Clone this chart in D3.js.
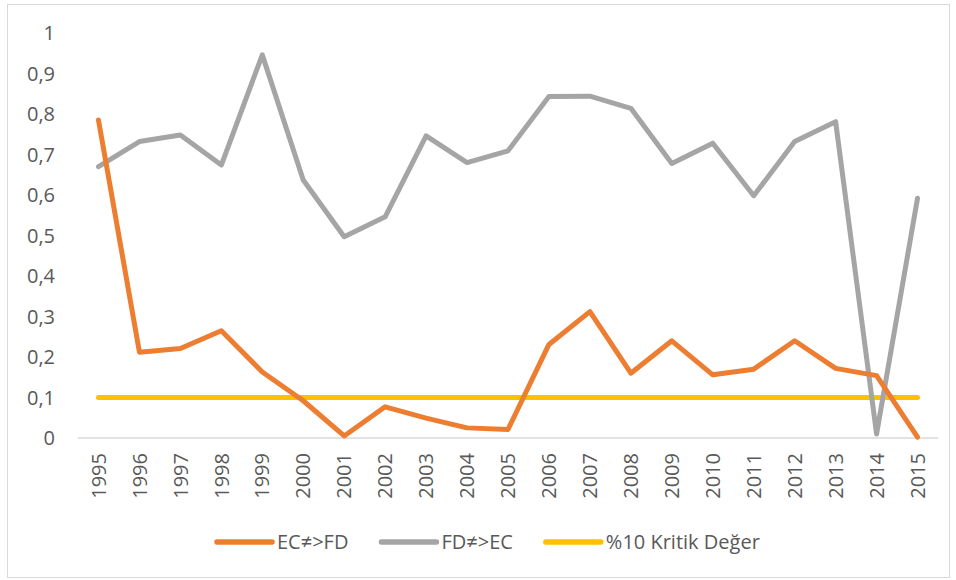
<!DOCTYPE html>
<html>
<head>
<meta charset="utf-8">
<script src="https://cdn.jsdelivr.net/npm/d3@7"></script>
<style>
  body { margin: 0; background: #fff; }
  text { font-family: "Open Sans", "Liberation Sans", sans-serif; fill: #595959; }
</style>
</head>
<body>
<div id="chart"></div>
<script>
var years = ['1995', '1996', '1997', '1998', '1999', '2000', '2001', '2002', '2003', '2004', '2005',
    '2006', '2007', '2008', '2009', '2010', '2011', '2012', '2013', '2014', '2015'];

var ecFd = [0.785, 0.212, 0.221, 0.265, 0.163, 0.092, 0.005, 0.077, 0.049, 0.025, 0.021,
    0.231, 0.312, 0.160, 0.240, 0.156, 0.170, 0.240, 0.172, 0.154, 0.002];

var fdEc = [0.670, 0.732, 0.748, 0.674, 0.946, 0.637, 0.497, 0.546, 0.746, 0.680, 0.709,
    0.843, 0.844, 0.814, 0.678, 0.728, 0.598, 0.732, 0.781, 0.010, 0.592];

var critical = [0.1, 0.1, 0.1, 0.1, 0.1, 0.1, 0.1, 0.1, 0.1, 0.1, 0.1,
    0.1, 0.1, 0.1, 0.1, 0.1, 0.1, 0.1, 0.1, 0.1, 0.1];

var yTicks = [0, 0.1, 0.2, 0.3, 0.4, 0.5, 0.6, 0.7, 0.8, 0.9, 1];

var series = [
    { name: 'EC≠>FD', values: ecFd, color: '#ED7D31' },
    { name: 'FD≠>EC', values: fdEc, color: '#A5A5A5' },
    { name: '%10 Kritik Değer', values: critical, color: '#FFC000' }
];

var width = 956;
var height = 580;
var margin = { top: 33, right: 18, bottom: 142, left: 78 };

var svg = d3.select('#chart')
    .append('svg')
    .attr('width', width)
    .attr('height', height);

// chart area border
svg.append('rect')
    .attr('x', 7.5)
    .attr('y', 4.5)
    .attr('width', 942)
    .attr('height', 573)
    .attr('fill', 'none')
    .attr('stroke', '#D9D9D9');

var x = d3.scaleBand()
    .domain(years)
    .range([margin.left, width - margin.right]);

var y = d3.scaleLinear()
    .domain([0, 1])
    .range([height - margin.bottom, margin.top]);

function cx(d, i) { return x(years[i]) + x.bandwidth() / 2; }

// y labels
svg.selectAll('.ylab')
    .data(yTicks)
    .enter().append('text')
    .attr('class', 'ylab')
    .attr('x', 55)
    .attr('y', function (d) { return y(d); })
    .attr('dy', '0.36em')
    .attr('text-anchor', 'end')
    .style('font-size', '20px')
    .text(function (d) { return String(d3.format('.1~f')(d)).replace('.', ','); });

// baseline
svg.append('line')
    .attr('x1', margin.left)
    .attr('x2', width - margin.right)
    .attr('y1', y(0))
    .attr('y2', y(0))
    .attr('stroke', '#D9D9D9')
    .attr('stroke-width', 1.5);

// x labels
svg.selectAll('.xlab')
    .data(years)
    .enter().append('text')
    .attr('class', 'xlab')
    .attr('transform', function (d) {
        return 'translate(' + (x(d) + x.bandwidth() / 2) + ',' + (y(0) + 15) + ') rotate(-90)';
    })
    .attr('dy', '0.36em')
    .attr('text-anchor', 'end')
    .style('font-size', '20px')
    .text(function (d) { return d; });

var line = d3.line()
    .x(cx)
    .y(function (d) { return y(d); });

// draw the critical value first, then the two test series
[series[2], series[1], series[0]].forEach(function (s) {
    svg.append('path')
        .datum(s.values)
        .attr('d', line)
        .attr('fill', 'none')
        .attr('stroke', s.color)
        .attr('stroke-width', 5)
        .attr('stroke-linejoin', 'round')
        .attr('stroke-linecap', 'round');
});

// legend, laid out left to right from the measured text widths
var legend = svg.append('g').attr('class', 'legend');
var lx = 217;
series.forEach(function (s) {
    var g = legend.append('g').attr('transform', 'translate(' + lx + ',542)');
    g.append('line')
        .attr('x1', 0)
        .attr('x2', 55)
        .attr('stroke', s.color)
        .attr('stroke-width', 5.5)
        .attr('stroke-linecap', 'round');
    var t = g.append('text')
        .attr('x', 60)
        .attr('dy', '0.36em')
        .style('font-size', '20px')
        .text(s.name);
    lx += 60 + t.node().getComputedTextLength() + 33;
});
</script>
</body>
</html>
